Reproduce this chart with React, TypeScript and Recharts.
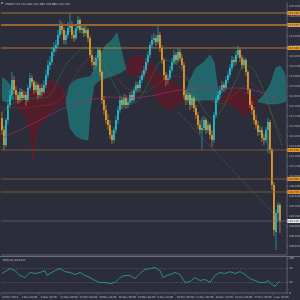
import React from 'react';
import { ComposedChart, LineChart, Bar, Line, Area, XAxis, YAxis, ReferenceLine } from 'recharts';

const BG = '#2c2d3b';
const CYAN = '#22c6d6';
const ORANGE = '#f0a02c';
const AXIS = '#6b6b78';
const TXT = '#c4c4cc';

const candleOpen = [
112.18,111.94,111.64,112.14,112.44,112.64,112.94,112.74,112.64,112.54,
112.70,112.58,112.64,112.54,112.78,112.98,112.90,112.74,112.84,112.64,
112.78,112.70,112.84,113.04,113.24,113.30,113.50,113.58,113.64,113.84,
114.04,113.94,113.74,113.84,113.98,114.06,113.84,113.78,113.98,114.14,
113.94,113.98,113.88,113.94,113.78,113.44,113.30,113.24,113.38,113.54,
113.10,112.54,112.34,112.14,112.04,111.84,111.74,111.94,112.14,112.34,
112.54,112.44,112.58,112.44,112.50,112.64,112.54,112.74,112.84,112.78,
112.94,113.04,113.14,113.30,113.44,113.64,113.74,113.78,113.70,113.84,
113.58,113.34,113.04,112.94,112.98,113.14,113.30,113.44,113.34,113.50,
113.38,113.24,112.64,112.54,112.64,112.44,112.58,112.38,112.24,112.04,
111.94,111.98,112.14,111.94,112.04,111.84,111.74,112.24,112.54,112.64,
112.74,112.84,112.78,112.94,113.04,113.18,113.34,113.30,113.44,113.54,
113.38,113.24,113.34,113.10,112.74,112.44,112.34,112.14,112.04,111.90,
111.94,111.78,111.74,111.94,112.10,111.54,110.84,109.90,110.28,110.44];

const candleHigh = [
112.30,112.02,112.18,112.54,112.74,113.10,113.02,112.82,112.70,112.78,
112.76,112.72,112.70,112.84,113.08,113.04,112.94,112.92,112.88,112.84,
112.86,112.94,113.14,113.34,113.42,113.60,113.70,113.74,113.94,114.14,
114.10,114.00,113.92,114.10,114.28,114.12,113.94,114.04,114.22,114.18,
114.06,114.04,114.02,113.98,113.82,113.54,113.40,113.44,113.60,113.58,
113.14,112.62,112.44,112.26,112.14,111.94,112.00,112.22,112.42,112.62,
112.60,112.66,112.64,112.58,112.70,112.72,112.80,112.92,112.90,113.02,
113.12,113.22,113.38,113.52,113.70,113.84,113.88,113.84,114.04,113.90,
113.64,113.38,113.10,113.06,113.22,113.38,113.54,113.50,113.58,113.56,
113.46,113.30,112.74,112.70,112.68,112.64,112.62,112.44,112.30,112.14,
112.20,112.22,112.18,112.12,112.08,111.94,112.30,112.60,112.72,112.82,
112.92,112.90,113.02,113.12,113.26,113.42,113.40,113.52,113.62,113.58,
113.44,113.40,113.38,113.14,112.78,112.52,112.40,112.24,112.12,112.02,
112.00,111.86,112.00,112.18,112.14,111.58,110.90,110.34,110.50,110.48];

const candleLow = [
111.84,111.54,111.60,112.06,112.38,112.58,112.66,112.54,112.46,112.48,
112.52,112.54,112.42,112.50,112.74,112.82,112.66,112.68,112.56,112.60,
112.62,112.66,112.78,112.98,113.14,113.24,113.42,113.50,113.58,113.78,
113.86,113.66,113.64,113.78,113.90,113.76,113.70,113.74,113.92,113.88,
113.86,113.80,113.82,113.70,113.38,113.22,113.14,113.18,113.32,113.02,
112.46,112.24,112.06,111.94,111.76,111.66,111.68,111.88,112.06,112.28,
112.36,112.38,112.36,112.38,112.44,112.48,112.50,112.68,112.70,112.72,
112.88,112.98,113.08,113.24,113.38,113.58,113.66,113.62,113.64,113.50,
113.26,112.94,112.82,112.86,112.94,113.08,113.24,113.26,113.28,113.32,
113.16,112.56,112.44,112.48,112.34,112.38,112.30,112.16,111.96,111.86,
111.54,111.92,111.86,111.88,111.76,111.60,111.68,112.18,112.48,112.58,
112.68,112.70,112.74,112.88,112.98,113.12,113.22,113.24,113.38,113.30,
113.16,113.18,113.02,112.66,112.38,112.24,112.06,111.96,111.82,111.84,
111.70,111.64,111.68,111.48,111.46,110.74,109.82,109.54,110.10,109.88];

const candleClose = [
111.94,111.64,112.14,112.44,112.64,112.94,112.74,112.64,112.54,112.70,
112.58,112.64,112.54,112.78,112.98,112.90,112.74,112.84,112.64,112.78,
112.70,112.84,113.04,113.24,113.30,113.50,113.58,113.64,113.84,114.04,
113.94,113.74,113.84,113.98,114.06,113.84,113.78,113.98,114.14,113.94,
113.98,113.88,113.94,113.78,113.44,113.30,113.24,113.38,113.54,113.10,
112.54,112.34,112.14,112.04,111.84,111.74,111.94,112.14,112.34,112.54,
112.44,112.58,112.44,112.50,112.64,112.54,112.74,112.84,112.78,112.94,
113.04,113.14,113.30,113.44,113.64,113.74,113.78,113.70,113.84,113.58,
113.34,113.04,112.94,112.98,113.14,113.30,113.44,113.34,113.50,113.38,
113.24,112.64,112.54,112.64,112.44,112.58,112.38,112.24,112.04,111.94,
111.98,112.14,111.94,112.04,111.84,111.74,112.24,112.54,112.64,112.74,
112.84,112.78,112.94,113.04,113.18,113.34,113.30,113.44,113.54,113.38,
113.24,113.34,113.10,112.74,112.44,112.34,112.14,112.04,111.90,111.94,
111.78,111.74,111.94,112.10,111.54,110.84,109.94,110.28,110.44,110.12];

// Ichimoku cloud segments: [bar index, upper, lower]
const cloudBull1 = [[0,112.98,112.54],[2,112.94,112.50],[4,112.84,112.54],[6,112.56,112.54]];
const cloudBear1 = [[6,112.54,112.52],[9,112.70,112.34],[12,112.74,112.18],[14,112.78,111.94],[15.5,112.80,111.30],[17,112.82,111.84],[19,112.84,112.04],[23,112.94,112.24],[27,112.90,112.38],[30,112.78,112.46],[32,112.54,112.52]];
const cloudBull2 = [[32,112.54,112.52],[34,112.84,111.98],[37,112.94,111.82],[40,112.98,111.76],[43,113.00,111.74],[44,113.00,112.34],[46,113.14,112.84],[49,113.44,112.94],[52,113.64,112.98],[55,113.74,113.02],[57.5,113.88,113.06],[59,113.64,113.08],[61,113.30,113.14],[62,113.18,113.16]];
const cloudBear2 = [[62,113.18,113.16],[64,113.38,113.04],[69,113.44,113.00],[74,113.30,112.94],[79,113.04,112.44],[84,112.98,112.34],[88,112.84,112.44],[91,112.58,112.54]];
const cloudBull3 = [[91,112.58,112.54],[94,112.94,112.54],[97,113.18,112.52],[101,113.30,112.54],[104,113.44,112.54],[106,113.30,112.54],[108,112.74,112.54],[109,112.56,112.54]];
const cloudBear3 = [[109,112.56,112.54],[113,112.70,112.46],[117,112.74,112.38],[121,112.70,112.20],[124,112.66,112.30],[127,112.58,112.42],[128,112.52,112.50]];
const cloudBull4 = [[128,112.52,112.50],[131,112.64,112.48],[134,112.84,112.46],[137,113.18,112.46],[139,113.22,112.48],[141,113.10,112.50],[142,112.94,112.52]];

const fastMA = [[0,112.30],[5,112.46],[10,112.54],[15,112.58],[20,112.58],[24,112.64],[28,112.94],[32,113.24],[37.5,113.48],[41.5,113.58],[45,113.54],[49,113.38],[53,113.10],[57,112.78],[61,112.54],[65,112.46],[69,112.58],[73,112.86],[77,113.18],[81,113.34],[85,113.30],[89,113.18],[93,112.94],[97,112.62],[101,112.34],[105,112.18],[109,112.30],[113,112.58],[117,112.94],[121,113.22],[125,113.18],[129,112.90],[133,112.50],[137,111.98],[140,111.64]];
const slowMA = [[0,112.38],[9,112.38],[19,112.42],[25,112.46],[29,112.54],[34,112.84],[39,113.18],[43,113.34],[49,113.30],[56.5,113.02],[64,112.74],[71.5,112.70],[79,112.90],[86.5,113.02],[94,112.90],[101.5,112.62],[109,112.46],[116.5,112.66],[124,112.86],[130,112.66],[135,112.24],[140,111.78]];
const longMA = [[0,111.78],[14,112.04],[29,112.34],[44,112.54],[54,112.60],[64,112.58],[74,112.62],[89,112.74],[104,112.78],[119,112.78],[129,112.70],[139,112.54]];

const rsiValues = [[0,55.7],[4,70],[6.5,64],[9,50],[11.5,44],[14,58.6],[16.5,55.7],[19,58.6],[21.5,64],[22.5,50],[24,55.7],[26.5,64],[29,70],[31.5,61],[34,58.6],[36.5,52.9],[39,58.6],[41.5,50],[44,44],[46.5,35.7],[49,30],[51.5,30],[54,27],[56.5,30],[59,44],[61.5,50],[64,50],[66.5,41],[69,55.7],[71.5,67],[74,70],[76.5,72.9],[79,64],[80.5,44],[82.5,50],[84,52.9],[86.5,58.6],[89,52.9],[91.5,30],[94,32.9],[96.5,44],[99,35.7],[101.5,38.6],[104,30],[106.5,50],[109,58.6],[111.5,55.7],[114,61],[116.5,55.7],[119,61],[121.5,52.9],[124,41],[126.5,35.7],[129,30],[131.5,30],[133,35.7],[135,24.3],[136.5,18.6],[138,30],[139,32.9]];

const resistanceLevels = [114.28, 114.04, 113.58];
const supportLevels = [111.54, 110.96, 110.70];
const lastPrice = 110.12;
const trendStart = { x: 88, y: 112.30 };
const trendEnd = { x: 142.5, y: 109.98 };

const priceTicks = [114.42,114.22,114.02,113.82,113.62,113.42,113.22,113.02,112.82,112.62,112.42,112.22,112.02,111.82,111.62,111.42,111.22,111.02,110.82,110.62,110.42,110.22,110.02,109.82,109.62];
const rsiTicks = [0, 30, 70, 100];
const dateTickPos = [-0.5,9.2,18.9,28.6,38.3,48,57.7,67.4,77.1,86.8,96.5,106.2,115.9,125.6,135.3];
const dateTickLabels = ['29 Oct 2018','1 Nov 08:00','6 Nov 16:00','12 Nov 00:00','15 Nov 08:00','20 Nov 16:00','26 Nov 00:00','29 Nov 08:00','4 Dec 16:00','10 Dec 00:00','13 Dec 08:00','18 Dec 16:00','24 Dec 00:00','27 Dec 08:00','2 Jan 16:00'];

const titleText = 'USDJPY,H4  110.440 110.480 109.880 110.120';
const rsiTitle = 'RSI(14) 32.9127';

const candles = candleOpen.map((o, i) => ({
  i, o, h: candleHigh[i], l: candleLow[i], c: candleClose[i], hl: [candleLow[i], candleHigh[i]],
}));
const toBand = (seg: number[][]) => seg.map(([i, up, lo]) => ({ i, band: [lo, up] }));
const toPts = (seg: number[][]) => seg.map(([i, v]) => ({ i, v }));
const bullClouds = [cloudBull1, cloudBull2, cloudBull3, cloudBull4].map(toBand);
const bearClouds = [cloudBear1, cloudBear2, cloudBear3].map(toBand);
const rsiData = toPts(rsiValues);

const Candle = (props: any) => {
  const { x, y, width, height, payload } = props;
  if (x == null || y == null || !payload) return null;
  const { o, h, l, c } = payload;
  const top = Math.min(y, y + height);
  const span = Math.abs(height);
  const py = (p: number) => (h === l ? top : top + ((h - p) / (h - l)) * span);
  const cx = x + width / 2;
  const color = c >= o ? CYAN : ORANGE;
  const yo = py(o);
  const yc = py(c);
  const bt = Math.min(yo, yc);
  const bh = Math.max(Math.abs(yo - yc), 0.8);
  return (
    <g>
      <line x1={cx} x2={cx} y1={top} y2={top + span} stroke={color} strokeWidth={0.6} />
      <rect x={cx - 0.8} y={bt} width={1.6} height={bh} fill={color} />
    </g>
  );
};

const makeTag = (fill: string, textFill: string, text: string) => (props: any) => {
  const vb = props.viewBox || {};
  const x0 = (vb.x || 0) + (vb.width || 0);
  const y0 = vb.y || 0;
  return (
    <g>
      <rect x={x0} y={y0 - 2} width={13} height={4} fill={fill} />
      <text x={x0 + 1} y={y0 + 1} fontSize={2.6} fill={textFill} fontFamily="DejaVu Sans">{text}</text>
    </g>
  );
};

const DateTick = (props: any) => {
  const { x, index } = props;
  return (
    <g>
      <line x1={x} x2={x} y1={37} y2={39} stroke={AXIS} strokeWidth={0.5} />
      <text x={x + 1} y={41.6} fontSize={2.6} fill={TXT} fontFamily="DejaVu Sans">{dateTickLabels[index]}</text>
    </g>
  );
};

const resColors = ['#c8862e', '#9a6430', '#d08a2a'];
const resWidths = [0.8, 1.8, 0.8];

export default function App() {
  return (
    <div style={{ position: 'fixed', left: 0, top: 0, width: 300, height: 300, background: BG, overflow: 'hidden' }}>
      <div style={{ position: 'absolute', left: 0, top: 0 }}>
        <ComposedChart width={300} height={256} data={candles} margin={{ top: 2, right: 0, bottom: 0, left: 1 }}>
          <XAxis dataKey="i" type="number" domain={[-0.5, 142.5]} allowDataOverflow height={1} tick={false} tickLine={false} axisLine={{ stroke: AXIS, strokeWidth: 0.8 }} />
          <YAxis orientation="right" type="number" domain={[109.44, 114.5]} allowDataOverflow ticks={priceTicks} interval={0} width={13}
            tick={{ fontSize: 2.6, fill: TXT, fontFamily: 'DejaVu Sans' }} tickSize={1} tickMargin={1}
            tickLine={{ stroke: AXIS }} axisLine={{ stroke: AXIS, strokeWidth: 0.8 }} tickFormatter={(v: number) => v.toFixed(3)} />
          {bullClouds.map((d, k) => (
            <Area key={'b' + k} data={d} dataKey="band" type="linear" stroke="#2a8a88" strokeWidth={0.4} fill="#1f7173" fillOpacity={0.85} isAnimationActive={false} dot={false} activeDot={false} />
          ))}
          {bearClouds.map((d, k) => (
            <Area key={'r' + k} data={d} dataKey="band" type="linear" stroke="#6e2030" strokeWidth={0.4} fill="#5a1a28" fillOpacity={0.85} isAnimationActive={false} dot={false} activeDot={false} />
          ))}
          <Line data={toPts(longMA)} dataKey="v" type="monotone" stroke="#b02a74" strokeWidth={0.6} dot={false} activeDot={false} isAnimationActive={false} />
          <Line data={toPts(slowMA)} dataKey="v" type="monotone" stroke="#a83a3a" strokeWidth={0.7} strokeDasharray="1 1" dot={false} activeDot={false} isAnimationActive={false} />
          <Line data={toPts(fastMA)} dataKey="v" type="monotone" stroke="#2e9a44" strokeWidth={0.7} strokeDasharray="1 1" dot={false} activeDot={false} isAnimationActive={false} />
          <Bar dataKey="hl" barSize={2} shape={Candle} isAnimationActive={false} />
          <ReferenceLine segment={[trendStart, trendEnd]} stroke="#6e6e7c" strokeWidth={0.6} strokeDasharray="1 1" />
          {resistanceLevels.map((p, k) => (
            <ReferenceLine key={'res' + k} y={p} stroke={resColors[k]} strokeWidth={resWidths[k]} label={makeTag('#e8962a', '#2a2a2a', p.toFixed(3))} />
          ))}
          {supportLevels.map((p, k) => (
            <ReferenceLine key={'sup' + k} y={p} stroke="#8a6035" strokeWidth={0.8} label={makeTag('#e8962a', '#2a2a2a', p.toFixed(3))} />
          ))}
          <ReferenceLine y={lastPrice} stroke="#767684" strokeWidth={0.6} label={makeTag('#e6e6ea', '#222', lastPrice.toFixed(3))} />
        </ComposedChart>
      </div>
      <div style={{ position: 'absolute', left: 0, top: 256 }}>
        <LineChart width={300} height={44} data={rsiData} margin={{ top: 2, right: 0, bottom: 0, left: 1 }}>
          <XAxis dataKey="i" type="number" domain={[-0.5, 142.5]} allowDataOverflow ticks={dateTickPos} interval={0} height={7}
            tick={DateTick} tickLine={false} axisLine={{ stroke: AXIS, strokeWidth: 0.8 }} />
          <YAxis orientation="right" type="number" domain={[0, 100]} ticks={rsiTicks} interval={0} width={13}
            tick={{ fontSize: 2.6, fill: TXT, fontFamily: 'DejaVu Sans' }} tickSize={1} tickMargin={1}
            tickLine={{ stroke: AXIS }} axisLine={{ stroke: AXIS, strokeWidth: 0.8 }} />
          <ReferenceLine y={70} stroke="#6a6a78" strokeWidth={0.6} strokeDasharray="1 1" />
          <ReferenceLine y={30} stroke="#6a6a78" strokeWidth={0.6} strokeDasharray="1 1" />
          <Line dataKey="v" type="linear" stroke="#26a69a" strokeWidth={0.8} dot={false} activeDot={false} isAnimationActive={false} />
        </LineChart>
      </div>
      <div style={{ position: 'absolute', left: 0, top: 255.5, width: 300, height: 1, background: AXIS }} />
      <svg width={300} height={300} style={{ position: 'absolute', left: 0, top: 0, pointerEvents: 'none' }}>
        <rect x={1} y={2} width={2} height={2} fill="#7a7a88" />
        <text x={5} y={4.6} fontSize={2.8} fill={TXT} fontFamily="DejaVu Sans">{titleText}</text>
        <text x={3} y={261} fontSize={2.8} fill={TXT} fontFamily="DejaVu Sans">{rsiTitle}</text>
      </svg>
    </div>
  );
}
